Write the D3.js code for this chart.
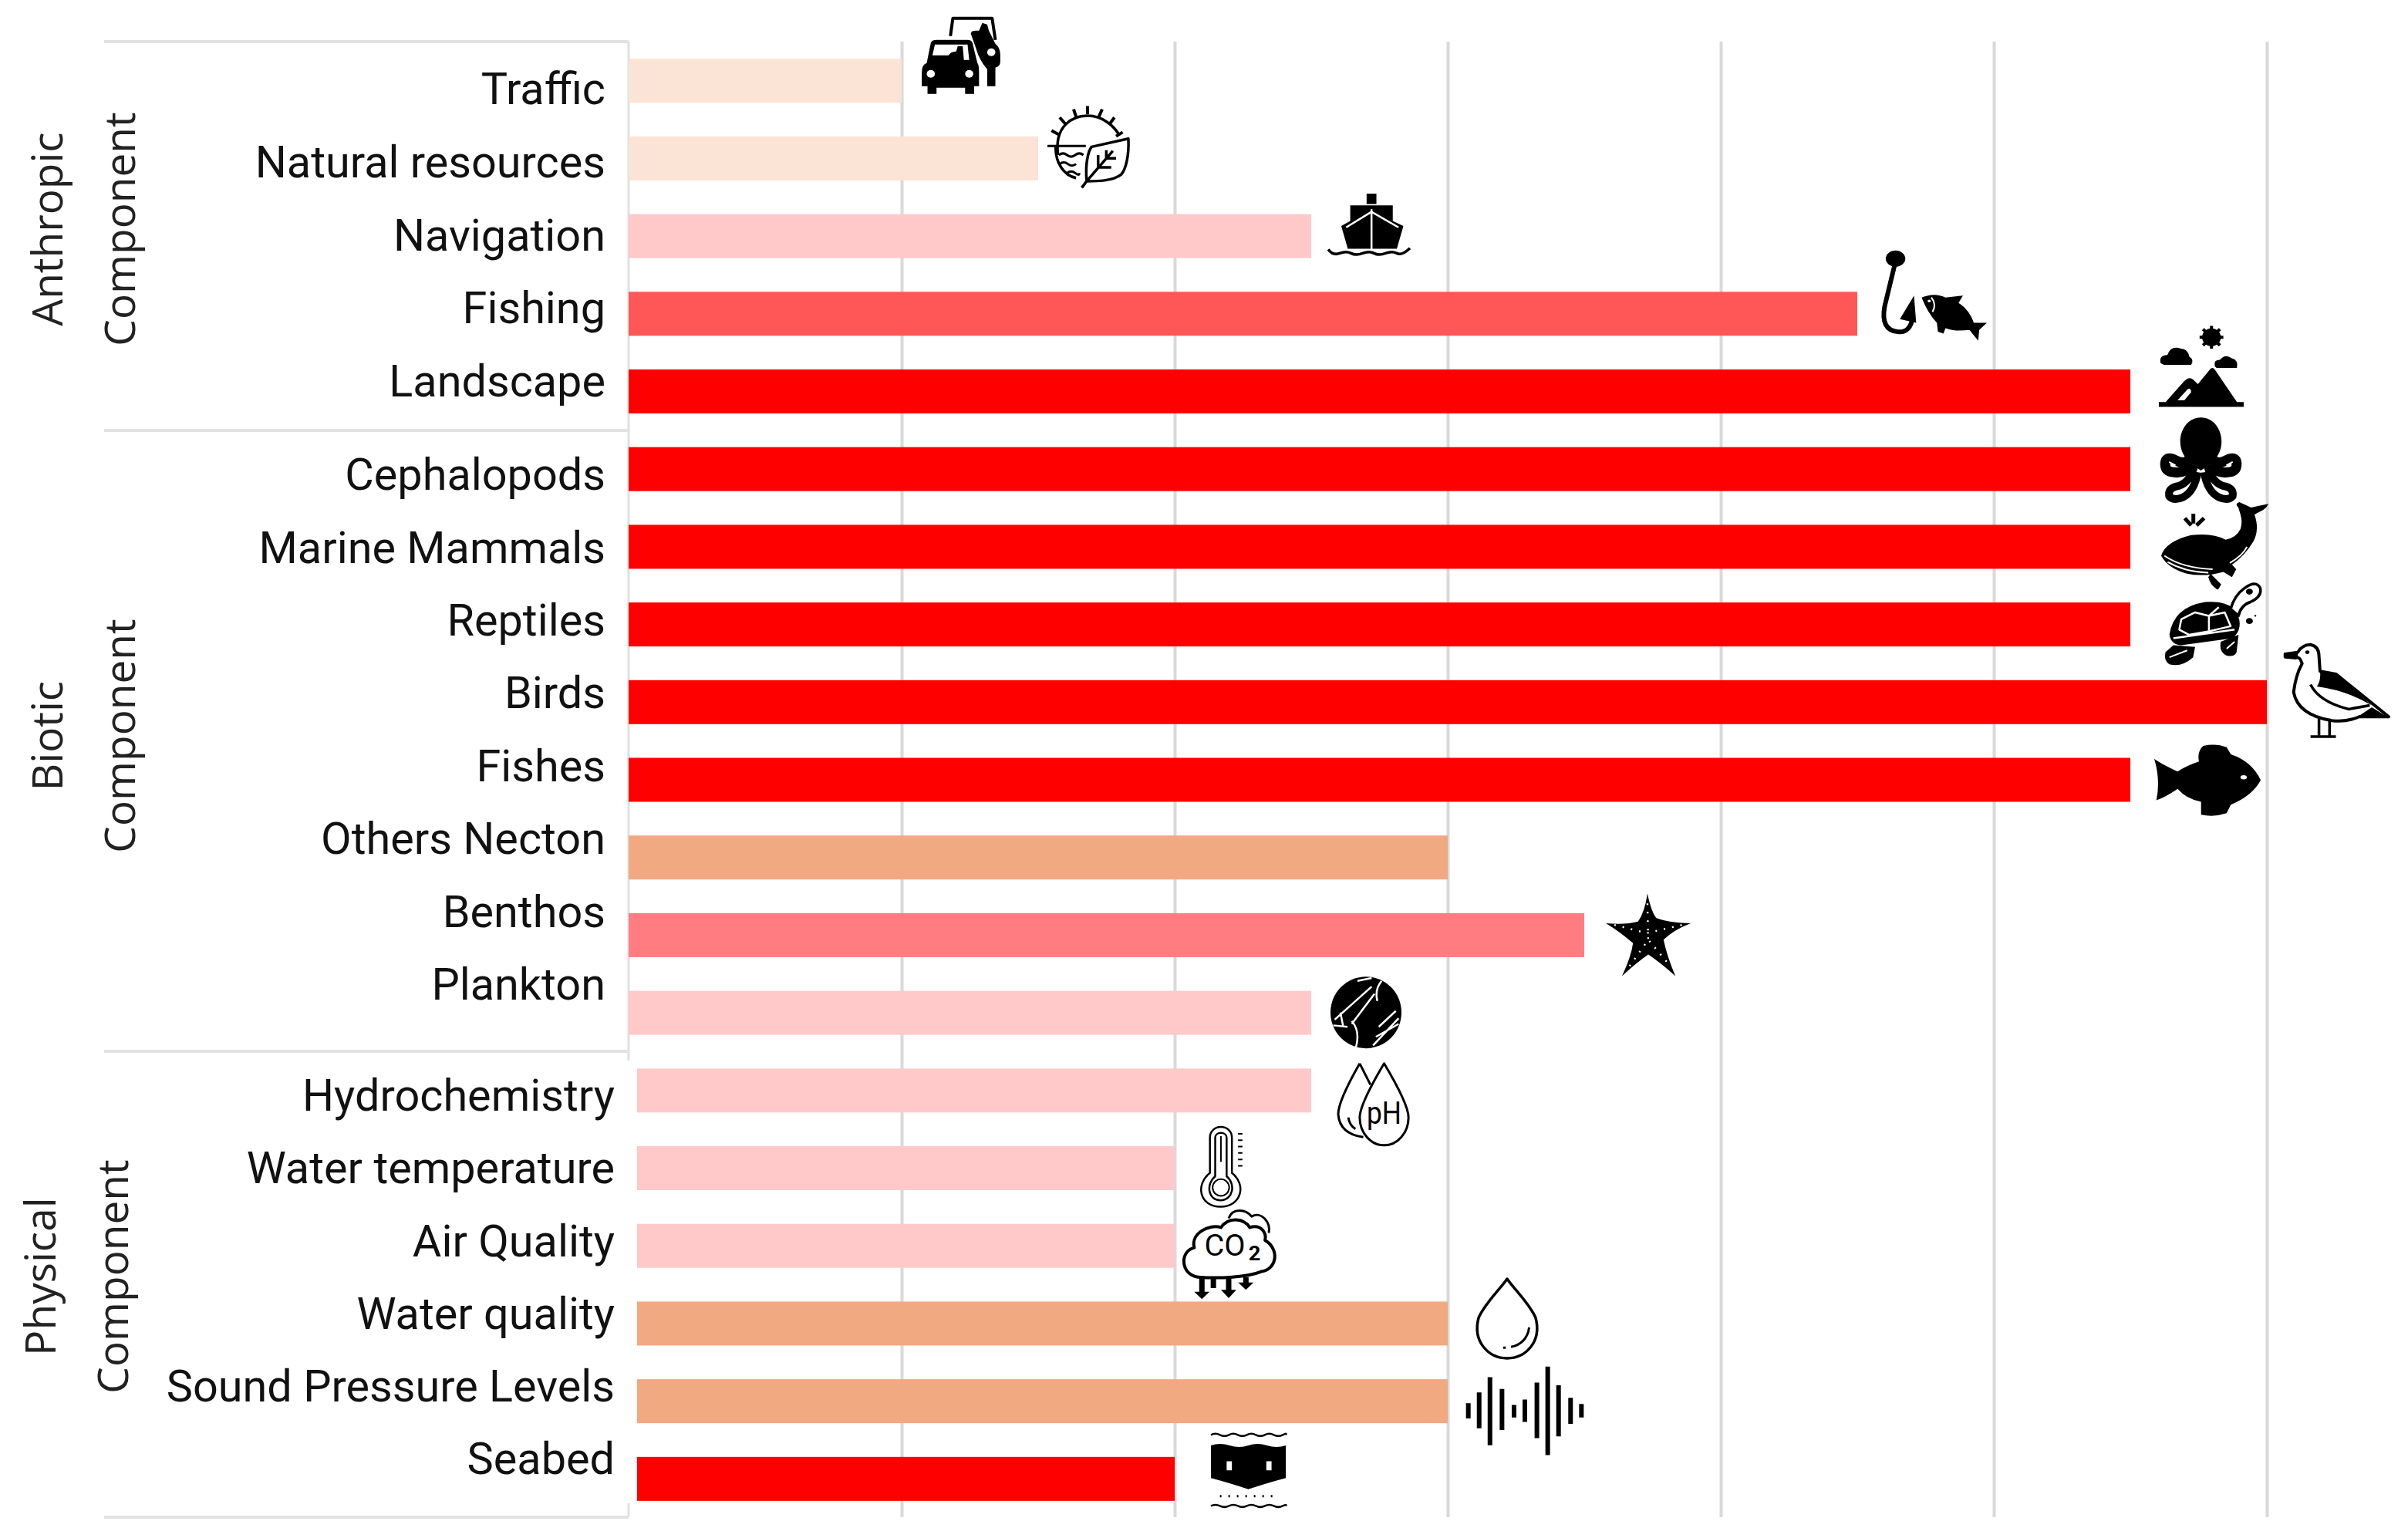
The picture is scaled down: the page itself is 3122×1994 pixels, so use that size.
<!DOCTYPE html>
<html>
<head>
<meta charset="utf-8">
<script src="https://cdnjs.cloudflare.com/ajax/libs/d3/7.8.5/d3.min.js"></script>
<style>
    html, body { margin: 0; background: #fff; }
    svg { display: block; }
    .row-label { font-family: Roboto, sans-serif; font-size: 57.6px; fill: #111; }
    .group-label { font-family: "Open Sans", sans-serif; font-size: 55px; fill: #222; }
    .icon-text { font-family: Roboto, sans-serif; fill: #000; }
</style>
</head>
<body>
<div id="chart-container"></div>
<script>
// Data
const anthropic = ['Traffic', 'Natural resources', 'Navigation', 'Fishing', 'Landscape'];
const biotic = ['Cephalopods', 'Marine Mammals', 'Reptiles', 'Birds', 'Fishes', 'Others Necton', 'Benthos', 'Plankton'];
const physical = ['Hydrochemistry', 'Water temperature', 'Air Quality', 'Water quality', 'Sound Pressure Levels', 'Seabed'];
const categories = [...anthropic, ...biotic, ...physical];
const values = [1, 1.5, 2.5, 4.5, 5.5, 5.5, 5.5, 5.5, 6, 5.5, 3, 3.5, 2.5, 2.5, 2, 2, 3, 3, 2];
const classes = ['a', 'a', 'b', 'e', 'f', 'f', 'f', 'f', 'f', 'f', 'c', 'd', 'b', 'b', 'b', 'b', 'c', 'c', 'f'];
const xTicks = [1, 2, 3, 4, 5, 6];

const width = 3122, height = 1994;
const plotTop = 54, plotBottom = 1967;
const iconNames = ['traffic', 'resources', 'ship', 'fishing', 'landscape', 'octopus', 'whale', 'turtle', 'bird',
    'fish', null, 'star', 'plankton', 'ph', 'thermo', 'co2', 'drop', 'sound', 'seabed'];

const x = d3.scaleLinear().domain([0, 6]).range([815, 2939]);
const y = d3.scaleBand().domain(categories).range([54.35, 1967.7]).paddingInner(0.434).paddingOuter(0.217);
const color = d3.scaleOrdinal()
    .domain(['a', 'b', 'c', 'd', 'e', 'f'])
    .range(['#FBE3D6', '#FFC9C9', '#F1A982', '#FF7C80', '#FF5757', '#FF0000']);

// Labels do not sit on the bars, each block has its own spacing
const labelY = d3.scalePoint();
const groups = [
    { names: anthropic, title: 'Anthropic', range: [115, 494], right: 785, titleX: 81, compX: 175, titleY: 297, barStart: 815 },
    { names: biotic, title: 'Biotic', range: [615, 1276], right: 785, titleX: 81, compX: 175, titleY: 954, barStart: 815 },
    { names: physical, title: 'Physical', range: [1420, 1891], right: 797, titleX: 72, compX: 166, titleY: 1655, barStart: 826 }
];

// icon box relative to bar end and bar centre: dx, dy, w, h
const iconBox = {
    traffic: [24, -83, 106, 100], resources: [12, -68, 106, 106], ship: [22, -55, 106, 84],
    fishing: [27, -82, 141, 117], landscape: [37, -85, 110, 105], octopus: [40, -67, 103, 111],
    whale: [40, -58, 139, 116], turtle: [43, -56, 128, 112], bird: [21, -77, 137, 123],
    fish: [31, -46, 138, 93], star: [28, -54, 110, 107], plankton: [25, -47, 92, 93],
    ph: [35, -35, 93, 106], thermo: [32, -54, 57, 104], co2: [8, -50, 124, 119],
    drop: [35, -60, 84, 105], sound: [22, -45, 156, 116], seabed: [47, -60, 97, 98]
};

const dot = (cx, cy, r) => `M${cx - r} ${cy}a${r} ${r} 0 1 0 ${2 * r} 0a${r} ${r} 0 1 0 ${-2 * r} 0Z`;

// Icon shapes in a 100x100 box: [kind, path, stroke width]; kinds: f fill, w white fill, s stroke, o outlined white, v white stroke
const icons = {
    traffic: [
        ['s', 'M37 25L40 2H88L92 30', 4],
        ['f', 'M62 22Q62 18 68 18L72 18L76 8L82 10L84 18L92 35Q98 40 98 50V58Q98 64 92 66V90H82V68Q72 56 68 40Z'],
        ['w', dot(87, 46, 5)],
        ['f', 'M2 72Q2 62 8 60L13 34Q14 30 20 30H58Q63 30 64 34L70 60Q72 62 72 72V90H66V100H55V92H20V100H9V90H2Z'],
        ['w', 'M18 36H58L60 56H44V50H15Z'],
        ['f', 'M34 62V52Q36 45 44 45L46 38H52L54 62Z'],
        ['w', dot(13, 74, 5)], ['w', dot(60, 74, 5)]
    ],
    resources: [
        ['s', 'M13 60C8 25 30 12 49 12C68 12 82 25 88 36M10 50C10 70 20 85 35 88', 3.5],
        ['s', 'M49 0V10M32 4L35 13M15 14L22 22M5 30L14 35M67 4L63 13M82 14L76 22M92 32L84 37', 4],
        ['s', 'M0 49H47M14 60q5-4 10 0t10 0t10 0M15 71q5-4 10 0t10 0M24 82q5-4 10 0t5 0', 3],
        ['s', 'M48 92C46 70 50 55 54 50L99 40C100 60 96 78 90 84C80 92 60 92 48 92ZM48 92L42 100M48 92L80 55M62 75V60M62 75H78M72 64V54M72 64H84', 3.5]
    ],
    ship: [
        ['f', 'M47 0H59V16H47Z'],
        ['f', 'M27 18H79V42L92 50L84 85H24L16 50L27 42Z'],
        ['v', 'M53 24V86M22 52L53 28L86 52', 2.5],
        ['s', 'M0 86Q6 96 14 92T28 92T42 92T56 92T70 92T84 92T100 84', 3.5]
    ],
    fishing: [
        ['f', dot(16, 9, 9)],
        ['s', 'M16 12L6 62Q2 88 18 90Q30 92 32 72', 6],
        ['f', 'M33 50L35 80L20 76Z'],
        ['f', 'M40 52Q52 46 62 52L78 50L74 58Q84 66 88 80L100 80L93 88L92 100L84 88Q70 90 62 86L60 92L55 90L54 80Q46 70 40 52Z'],
        ['w', dot(47, 56, 1.5)],
        ['v', 'M49 52Q54 60 50 68', 2]
    ],
    landscape: [
        ['f', dot(62, 14, 11)],
        ['s', 'M62 0V28M48 14H76M52 4L72 24M72 4L52 24', 4],
        ['f', 'M2 46Q0 36 10 36Q14 24 26 28Q34 28 36 38Q42 42 38 48H6Z'],
        ['f', 'M66 50Q64 42 72 42Q78 34 86 40Q94 42 92 52H68Z'],
        ['f', 'M0 100V94H8L30 68Q36 62 40 66L46 72L60 54Q63 50 66 54L92 94H100V100Z'],
        ['w', 'M22 92L34 78Q38 76 38 82L30 92Z']
    ],
    octopus: [
        ['f', 'M50 0C66 0 76 14 76 28C76 40 70 46 66 52L50 62L34 52C30 46 24 40 24 28C24 14 34 0 50 0Z'],
        ['s', 'M36 48Q30 56 18 50Q6 44 5 54Q5 64 16 64Q28 66 40 56', 13],
        ['s', 'M64 48Q70 56 82 50Q94 44 95 54Q95 64 84 64Q72 66 60 56', 13],
        ['s', 'M42 56Q36 76 22 80Q8 82 10 92Q16 98 28 93Q42 86 46 64', 10],
        ['s', 'M58 56Q64 76 78 80Q92 82 90 92Q84 98 72 93Q58 86 54 64', 10],
        ['v', 'M10 52L18 56M90 52L82 56', 2]
    ],
    whale: [
        ['f', 'M0 60Q4 44 28 37Q48 34 60 42Q70 40 74 30Q76 22 74 14L72 6Q68 2 73 0Q80 4 84 6Q92 4 100 2Q98 8 90 12L87 14Q92 30 86 44Q78 60 66 70L70 75L66 84L58 78Q40 84 24 80Q6 74 0 60Z'],
        ['v', 'M3 60Q20 74 48 75M6 67Q22 78 44 79M80 50Q76 60 64 68', 2],
        ['f', 'M46 80L56 92L53 98Q46 94 44 84Z'],
        ['s', 'M28 26L22 18M30 24V13M33 26L40 18', 5]
    ],
    turtle: [
        ['f', 'M6 62Q10 30 42 24Q66 22 74 36Q82 54 70 66L18 74Q8 74 6 62Z'],
        ['o', 'M68 32Q72 16 82 8Q94-2 98 8Q100 18 88 24Q78 28 76 40Z', 3.5],
        ['f', dot(87, 12, 3.5)],
        ['v', 'M18 44L32 36L46 40L46 58L26 62L16 56ZM46 40L56 30M46 58L68 52L62 36L46 40M10 66L72 56', 2.5],
        ['f', 'M10 74L2 82Q0 92 6 96Q18 100 30 88L32 76Z'],
        ['f', 'M58 70Q56 82 64 86Q72 88 74 82L76 62Z'],
        ['v', 'M6 88L24 80M64 78L72 70', 2],
        ['f', dot(87, 46, 3.5)], ['f', dot(93, 40, 1)]
    ],
    bird: [
        ['o', 'M2 12L14 10Q18 2 26 2Q34 4 34 14L35 30L50 33L100 78L72 78Q60 84 46 82Q14 76 10 52Q12 34 18 22Q16 14 12 16L2 15Z', 4],
        ['f', 'M35 30L50 33L84 66Q60 50 32 46Q36 40 35 30Z'],
        ['s', 'M26 44Q34 62 62 70L82 66', 3.5],
        ['f', 'M72 77L100 79L84 68Z'],
        ['f', 'M2 11L14 9V15L2 15Z'],
        ['f', dot(23, 10, 2)],
        ['s', 'M34 80V98M44 80V98M26 99H50', 3.5]
    ],
    fish: [
        ['f', 'M0 20Q4 25 22 38Q30 30 42 24Q40 10 46 2Q58-2 68 4L72 14Q92 24 100 50Q92 72 72 84L68 96Q56 102 44 98Q44 88 44 80Q30 76 22 62Q10 74 2 78Q6 50 0 20Z'],
        ['w', dot(84, 46, 3)]
    ],
    star: [
        ['f', 'M49 0Q54 24 60 30Q76 36 100 36Q80 44 68 56Q72 76 82 100Q62 82 50 74Q36 84 19 100Q30 76 32 60Q16 46 0 36Q24 38 38 34Q46 22 49 0Z'],
        ['d', 'M49 12L50 60M10 38L48 48L90 38M28 88L50 56L76 88', 2.5]
    ],
    plankton: [
        ['f', dot(50, 50, 50)],
        ['v', 'M6 60L58 14M4 68L24 70M14 50L18 70M30 66L62 24M36 98Q42 76 30 62M60 96L96 58M66 34Q62 18 72 6M68 70L92 48M64 84L96 66M38 6L58 2', 2.5]
    ],
    ph: [
        ['s', 'M30 0Q0 46 0 62Q2 86 35 90M30 0L45 26M14 66Q16 76 24 80', 3],
        ['o', 'M64 0Q98 50 98 66A34 34 0 0 1 30 66Q30 50 64 0Z', 3],
        ['t', 'pH', 64, 74, 38, 400]
    ],
    thermo: [
        ['s', 'M24 58V14C24-4 74-4 74 14V58C108 72 96 100 48 100C0 100-10 72 24 58Z', 2.5],
        ['s', 'M36 62V14C36 6 62 6 62 14V62C84 72 76 92 48 92C20 92 14 72 36 62Z', 2.5],
        ['s', 'M49 12V44M30 76C32 90 66 90 68 76C66 62 32 62 30 76Z', 2],
        ['s', 'M88 9H98M88 17H98M88 25H98M88 33H98M88 41H98M88 49H98', 2]
    ],
    co2: [
        ['s', 'M18 76C0 74-2 48 14 44C10 28 30 18 42 22C50 10 66 12 72 22C84 18 90 28 88 36C104 46 100 68 84 70C70 76 40 78 18 76Z', 4],
        ['s', 'M50 12C54 0 68 2 74 10C84 4 94 16 92 28', 3],
        ['s', 'M22 76V96M34 76V88M50 76V94M68 76V84', 7],
        ['f', 'M14 92H30L22 100ZM42 90H58L50 99ZM60 82H76L68 90Z'],
        ['t', 'CO', 46, 53, 32, 400],
        ['t', '2', 77, 58, 22, 700]
    ],
    drop: [
        ['s', 'M50 2C40 14 16 32 6 50C-4 80 22 100 50 100C78 100 104 80 94 50C84 32 60 14 50 2Z', 3.5],
        ['s', 'M84 62C82 76 70 84 56 86M48 87H44', 3]
    ],
    sound: [
        ['s', 'M3 41V58M12 29V69M21 12V88M31 25V71M41 43V57M50 37V62M60 18V80M69 0V99M78 21V78M88 35V64M97 42V57', 6]
    ],
    seabed: [
        ['s', 'M0 3q6-3 12 0t12 0t12 0t12 0t12 0t12 0t12 0t12 0t4 0', 2.5],
        ['f', 'M0 17Q12 13 25 17T50 17T75 17T100 17V60Q70 68 50 75Q30 68 0 60Z'],
        ['w', 'M21 38H28V50H21ZM74 38H81V50H74Z'],
        ['d0', 'M12 84L88 84', 3],
        ['s', 'M0 97q6-3 12 0t12 0t12 0t12 0t12 0t12 0t12 0t12 0t4 0', 2.5]
    ]
};

function drawIcon(parent, name, barEnd, centre) {
    const box = iconBox[name];
    const g = parent.append('g')
        .attr('class', 'icon')
        .attr('transform', `translate(${barEnd + box[0]},${centre + box[1]}) scale(${box[2] / 100},${box[3] / 100})`);

    icons[name].forEach(s => {
        if (s[0] === 't') {
            g.append('text')
                .attr('class', 'icon-text')
                .attr('x', s[2]).attr('y', s[3])
                .attr('text-anchor', 'middle')
                .attr('font-size', s[4])
                .attr('font-weight', s[5])
                .text(s[1]);
            return;
        }
        const p = g.append('path').attr('d', s[1]).attr('vector-effect', 'non-scaling-stroke');
        const dark = s[0] === 's' || s[0] === 'o' || s[0] === 'd0';
        p.attr('fill', s[0] === 'f' ? '#000' : (s[0] === 'w' || s[0] === 'o') ? '#fff' : 'none');
        if (s[2]) {
            p.attr('stroke', dark ? '#000' : '#fff').attr('stroke-width', s[2]).attr('stroke-linejoin', 'round');
        }
        if (s[0] === 'd' || s[0] === 'd0') p.attr('stroke-dasharray', '2 9');
    });
}

const svg = d3.select('#chart-container').append('svg')
    .attr('width', width)
    .attr('height', height)
    .attr('viewBox', `0 0 ${width} ${height}`);

// Gridlines come from the axis, no labels on it
const xAxis = d3.axisTop(x).tickValues(xTicks).tickSize(-(plotBottom - plotTop)).tickFormat('');
const xAxisGroup = svg.append('g')
    .attr('class', 'x-axis')
    .attr('transform', `translate(0,${plotTop})`)
    .call(xAxis);
xAxisGroup.select('.domain').remove();
xAxisGroup.selectAll('.tick line').attr('stroke', '#D9D9D9').attr('stroke-width', 4);

// Left axis is broken beside the physical block
svg.append('path')
    .attr('d', `M${x(0)} ${plotTop}V1375M${x(0)} 1949V${plotBottom}`)
    .attr('stroke', '#E0E0E0')
    .attr('stroke-width', 3)
    .attr('fill', 'none');

// Group separators
svg.selectAll('.separator')
    .data([plotTop, 558, 1363, plotBottom])
    .enter()
    .append('line')
    .attr('class', 'separator')
    .attr('x1', 135)
    .attr('x2', x(0))
    .attr('y1', d => d)
    .attr('y2', d => d)
    .attr('stroke', '#E2E2E2')
    .attr('stroke-width', 4);

groups.forEach(group => {
    labelY.domain(group.names).range(group.range);

    group.names.forEach(name => {
        const i = categories.indexOf(name);

        svg.append('rect')
            .attr('class', 'bar')
            .attr('x', group.barStart)
            .attr('y', y(name))
            .attr('width', x(values[i]) - group.barStart)
            .attr('height', y.bandwidth())
            .attr('fill', color(classes[i]));

        svg.append('text')
            .attr('class', 'row-label')
            .attr('x', group.right)
            .attr('y', labelY(name))
            .attr('dy', '0.35em')
            .attr('text-anchor', 'end')
            .text(name);

        if (iconNames[i]) {
            drawIcon(svg, iconNames[i], x(values[i]), y(name) + y.bandwidth() / 2);
        }
    });

    // Rotated block titles
    [[group.title, group.titleX], ['Component', group.compX]].forEach(([label, tx]) => {
        svg.append('text')
            .attr('class', 'group-label')
            .attr('transform', `translate(${tx},${group.titleY}) rotate(-90)`)
            .attr('text-anchor', 'middle')
            .text(label);
    });
});
</script>
</body>
</html>
